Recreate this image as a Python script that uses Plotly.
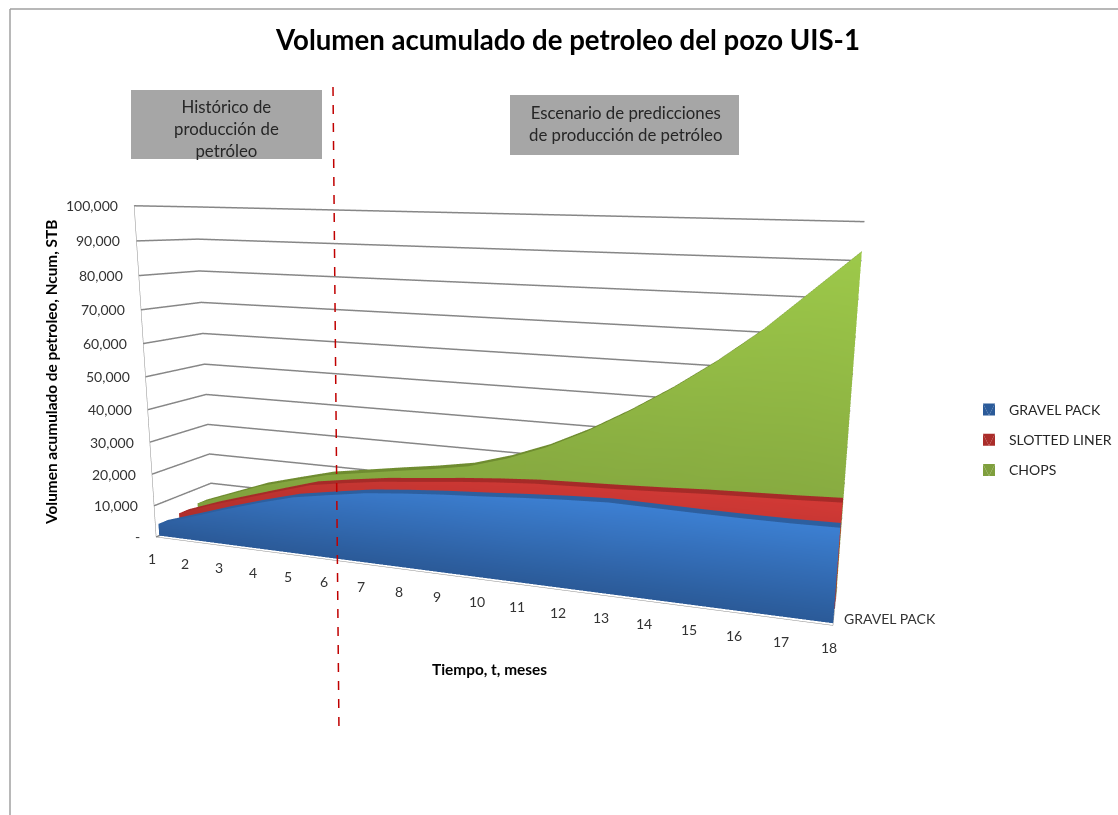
import plotly.graph_objects as go

months = list(range(1, 19))
gravel_pack = [3800, 7300, 10900, 14200, 17200, 19100, 20900, 22000, 22900, 23600, 24400, 25100, 25600, 25400, 25200, 25100, 25100, 25300]
slotted_liner = [4400, 8300, 11700, 15100, 18400, 20200, 21800, 22900, 24100, 25100, 25900, 26300, 26700, 27200, 27800, 28200, 28600, 29100]
chops = [5100, 9200, 13300, 16300, 19200, 21000, 22800, 24500, 26500, 29900, 34300, 39900, 46500, 53800, 62000, 71200, 81900, 92600]
series_names = ["GRAVEL PACK", "SLOTTED LINER", "CHOPS"]
z_ticks = [0, 10000, 20000, 30000, 40000, 50000, 60000, 70000, 80000, 90000, 100000]
z_labels = ["-", "10,000", "20,000", "30,000", "40,000", "50,000", "60,000", "70,000", "80,000", "90,000", "100,000"]

W, H = 1118, 815
X0 = 50
FONT = "Lato"
AXIS_COLOR = "#8c8c8c"


def lerp(a, b, t):
    return "rgb(%d,%d,%d)" % tuple(a[i] + (b[i] - a[i]) * t for i in range(3))


def mesh(vals, y0, y1, low, high, strip, side, name):
    X, Y, Z, C, I, J, K = [], [], [], [], [], [], []

    def quad(pts, cols):
        m = len(X)
        for p, c_ in zip(pts, cols):
            X.append(p[0]); Y.append(p[1]); Z.append(p[2]); C.append(c_)
        I.extend([m, m]); J.extend([m + 1, m + 2]); K.extend([m + 2, m + 3])

    vm = max(vals)
    rows = 6
    for i in range(len(months) - 1):
        x0, x1 = months[i], months[i + 1]
        a, b = vals[i], vals[i + 1]
        for k in range(rows):
            s0, s1 = k / rows, (k + 1) / rows
            quad([(x0, y0, a * s0), (x1, y0, b * s0), (x1, y0, b * s1), (x0, y0, a * s1)],
                 [lerp(low, high, a * s0 / vm), lerp(low, high, b * s0 / vm),
                  lerp(low, high, b * s1 / vm), lerp(low, high, a * s1 / vm)])
        quad([(x0, y0, a), (x1, y0, b), (x1, y1, b), (x0, y1, a)], [lerp(strip, strip, 0)] * 4)
    v = vals[-1]
    last = months[-1]
    quad([(last, y0, 0), (last, y1, 0), (last, y1, v), (last, y0, v)], [lerp(side, side, 0)] * 4)
    return go.Mesh3d(x=X, y=Y, z=Z, i=I, j=J, k=K, vertexcolor=C, name=name, showlegend=True,
                     hoverinfo="skip", legendgroup=name, flatshading=True,
                     lighting=dict(ambient=1, diffuse=0, specular=0, fresnel=0, roughness=1),
                     color=lerp(low, high, .7))


fig = go.Figure()
fig.add_trace(mesh(gravel_pack, 0.15, 0.6, (43, 90, 152), (61, 128, 211), (45, 95, 159), (40, 85, 145), series_names[0]))
fig.add_trace(mesh(slotted_liner, 1.2, 1.7, (170, 45, 42), (210, 58, 54), (166, 43, 40), (150, 38, 36), series_names[1]))
fig.add_trace(mesh(chops, 2.2, 2.7, (127, 159, 61), (157, 201, 74), (111, 140, 48), (105, 135, 45), series_names[2]))

common = dict(title=dict(text=""), zeroline=False, showbackground=False, showline=True, linecolor=AXIS_COLOR,
              ticks="", showticklabels=False, showspikes=False)
tick_font = dict(family=FONT, size=14, color="#333")
scene_anns = [dict(x=m, y=0, z=0, text=str(m), showarrow=False, xshift=-4, yshift=-22, xanchor="center",
                   yanchor="middle", font=tick_font) for m in months]
scene_anns += [dict(x=1, y=0, z=min(v, 99999), text=t, showarrow=False, xshift=-14, xanchor="right",
                    yanchor="middle", font=tick_font) for v, t in zip(z_ticks, z_labels)]
scene_anns += [dict(x=18, y=0.5, z=0, text=series_names[0], showarrow=False, xshift=8, yshift=0, xanchor="left",
                    yanchor="middle", font=tick_font)]
scene = dict(
    domain=dict(x=[X0 / W, 1], y=[0, 1]), aspectmode="manual",
    aspectratio=dict(x=2.0281, y=0.2730, z=1), annotations=scene_anns,
    camera=dict(eye=dict(x=1.0444, y=-2.5522, z=0.5067), center=dict(x=0.2832, y=0.0910, z=-0.0369),
                up=dict(x=-0.0742, y=0.1804, z=0.9808), projection=dict(type="perspective")),
    xaxis=dict(range=[1, 18], tickvals=months, showgrid=False, **common),
    yaxis=dict(range=[0, 3], tickvals=[0.5], showgrid=False, **common),
    zaxis=dict(range=[0, 100000], tickvals=z_ticks, showgrid=True, gridcolor="#868686", gridwidth=3, **common))


def px(x):
    return x / W


def py(y):
    return 1 - y / H


shapes = [
    dict(type="line", xref="paper", yref="paper", x0=px(10), x1=px(10), y0=py(9), y1=py(815), line=dict(color="#a0a0a0", width=1.5)),
    dict(type="line", xref="paper", yref="paper", x0=px(10), x1=1, y0=py(9), y1=py(9), line=dict(color="#a0a0a0", width=1.5)),
    dict(type="rect", xref="paper", yref="paper", x0=px(131), x1=px(322), y0=py(90), y1=py(159), fillcolor="#a6a6a6", line=dict(width=0)),
    dict(type="rect", xref="paper", yref="paper", x0=px(510), x1=px(739), y0=py(95), y1=py(155), fillcolor="#a6a6a6", line=dict(width=0)),
    dict(type="line", xref="paper", yref="paper", x0=px(333), x1=px(339), y0=py(87), y1=py(733), line=dict(color="#c00000", width=1.5, dash="dash")),
]


def ann(t, x, y, size, bold=False, angle=0, color="#262626"):
    return dict(text=("<b>%s</b>" % t if bold else t), x=px(x), y=py(y), xref="paper", yref="paper", showarrow=False,
                xanchor="center", yanchor="middle", align="center", textangle=angle,
                font=dict(family=FONT, size=size, color=color))


anns = [ann("Histórico de<br>producción de<br>petróleo", 226, 129, 16.8),
        ann("Escenario de predicciones<br>de producción de petróleo", 625, 123, 16.8),
        ann("Tiempo, t, meses", 489, 669, 15.4, True, 0, "#000"),
        ann("Volumen acumulado de petroleo, Ncum, STB", 51, 373, 15.4, True, -90, "#000")]
fig.update_layout(
    width=W, height=H, margin=dict(l=0, r=0, t=0, b=0, autoexpand=False), paper_bgcolor="white",
    scene=scene, shapes=shapes, annotations=anns,
    title=dict(text="<b>Volumen acumulado de petroleo del pozo UIS-1</b>", x=568 / W, y=py(40), xanchor="center",
               yanchor="middle", font=dict(family=FONT, size=27.6, color="#000")),
    legend=dict(x=px(969), y=py(394), xanchor="left", yanchor="top", font=dict(family=FONT, size=14, color="#262626"),
                itemwidth=30, bgcolor="rgba(0,0,0,0)", tracegroupgap=9))
fig.write_html("out.html", post_script="document.body.style.margin='0';", config=dict(displayModeBar=False))
